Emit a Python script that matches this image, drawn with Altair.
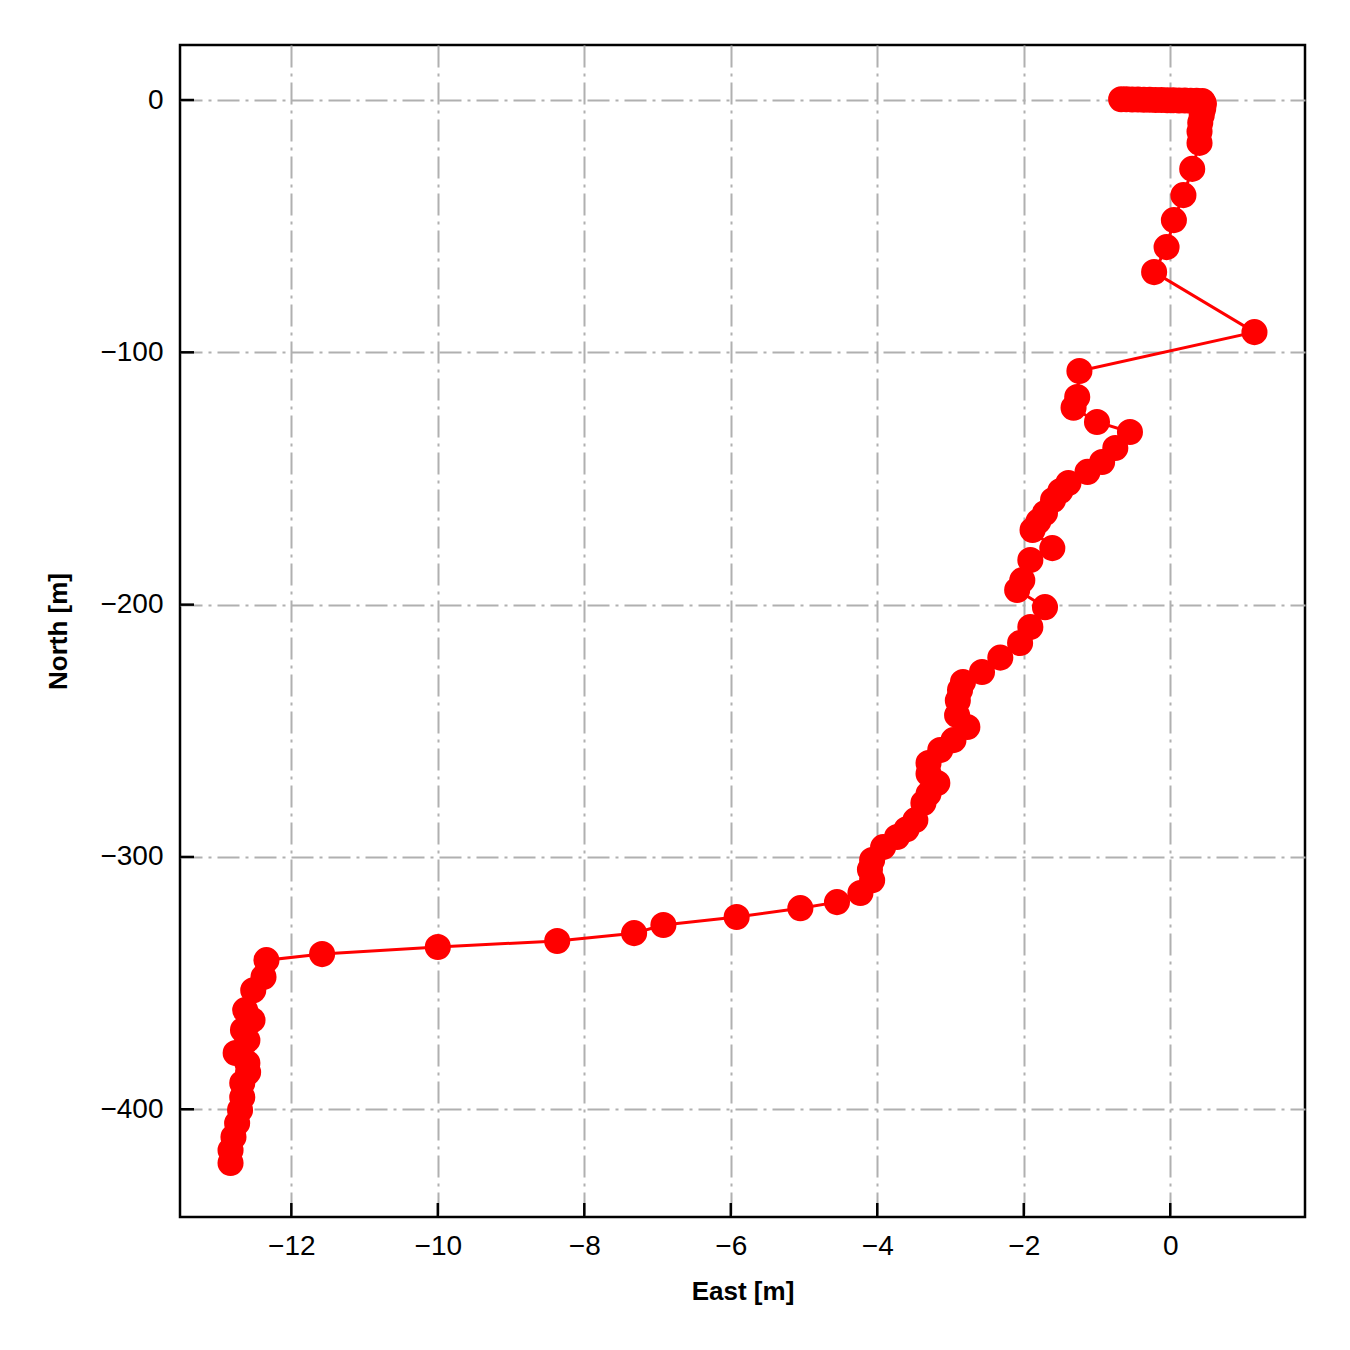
import altair as alt
import pandas as pd

east = [-0.67, -0.60, -0.52, -0.44, -0.36, -0.28, -0.20, -0.12, -0.04, 0.04, 0.12, 0.20, 0.28, 0.36, 0.44,
        0.46, 0.45, 0.43, 0.41, 0.40, 0.40, 0.30, 0.18, 0.05, -0.05, -0.22, 1.15,
        -1.24, -1.27, -1.32, -1.00, -0.55, -0.75, -0.93, -1.13, -1.39, -1.50, -1.60, -1.71, -1.80, -1.88,
        -1.61, -1.91, -2.02, -2.09, -1.71, -1.91, -2.05, -2.32, -2.57, -2.83, -2.87, -2.90, -2.91,
        -2.77, -2.96, -3.14, -3.30, -3.30, -3.18, -3.30, -3.37, -3.48, -3.60, -3.73, -3.92, -4.07,
        -4.10, -4.07, -4.23, -4.55, -5.05, -5.92, -6.92, -7.32, -8.37, -10.00, -11.58, -12.34,
        -12.38, -12.52, -12.63, -12.53, -12.66, -12.60, -12.76, -12.60, -12.59, -12.67, -12.67,
        -12.70, -12.74, -12.79, -12.83, -12.83]
north = [0.3, 0.3, 0.2, 0.2, 0.1, 0.1, 0.0, 0.0, -0.1, -0.1, -0.2, -0.2, -0.3, -0.3, -0.4,
         -1.5, -3.5, -6.0, -9.0, -12.5, -17.0, -27.3, -37.7, -47.6, -58.3, -68.2, -92.0,
         -107.4, -117.7, -122.0, -127.6, -131.6, -137.9, -143.5, -147.4, -151.8, -155.0, -158.5, -163.7, -167.0, -170.4,
         -177.6, -182.3, -190.3, -194.2, -201.0, -208.9, -215.2, -221.0, -226.7, -230.7, -233.8, -238.0, -243.8,
         -248.5, -253.7, -257.6, -262.8, -267.0, -270.7, -275.0, -278.6, -285.4, -289.0, -292.1, -296.1, -301.2,
         -305.0, -309.2, -314.3, -317.9, -320.3, -323.8, -327.0, -330.2, -333.3, -335.7, -338.5, -340.9,
         -347.6, -352.8, -360.7, -364.6, -368.6, -372.6, -377.7, -381.7, -385.3, -389.6, -395.2,
         -400.3, -405.5, -411.0, -416.2, -421.3]

x_ticks = [-12, -10, -8, -6, -4, -2, 0]
y_ticks = [-400, -300, -200, -100, 0]
x_domain = [-13.52, 1.84]
y_domain = [-442.7, 21.8]

W, H = 1125, 1172
FONT = "Liberation Sans"

df = pd.DataFrame({"East": east, "North": north, "i": list(range(len(east)))})
xt = pd.DataFrame({"East": x_ticks})
yt = pd.DataFrame({"North": y_ticks})

grid_kw = dict(grid=True, gridColor="#b0b0b0", gridWidth=2, gridDash=[22, 6, 3, 6],
               domain=False, ticks=False, tickSize=0, labelFont=FONT, labelFontSize=28,
               labelColor="black", titleFont=FONT, titleFontSize=26, titleFontWeight="bold",
               titleColor="black")

xscale = alt.Scale(domain=x_domain, nice=False, zero=False)
yscale = alt.Scale(domain=y_domain, nice=False, zero=False)

xaxis = alt.Axis(values=x_ticks, labelPadding=15, titlePadding=18, format="d", **grid_kw)
yaxis = alt.Axis(values=y_ticks, labelPadding=17, titlePadding=28, format="d", **grid_kw)

X = alt.X("East:Q", scale=xscale, axis=xaxis, title="East [m]")
Y = alt.Y("North:Q", scale=yscale, axis=yaxis, title="North [m]")

base = alt.Chart(df)
line = base.mark_line(color="#ff0000", strokeWidth=3).encode(x=X, y=Y, order="i:Q")
pts = base.mark_circle(color="#ff0000", opacity=1, size=680).encode(x=X, y=Y)

xtick_marks = alt.Chart(xt).mark_rule(color="black", strokeWidth=2.5).encode(
    x=X, y=alt.value(H), y2=alt.value(H - 14),
)
ytick_marks = alt.Chart(yt).mark_rule(color="black", strokeWidth=2.5).encode(
    y=Y, x=alt.value(0), x2=alt.value(14),
)

chart = alt.layer(line, pts, xtick_marks, ytick_marks).properties(
    width=W, height=H,
    autosize=alt.AutoSizeParams(type="none"),
    padding={"left": 172, "top": 37, "right": 30, "bottom": 120},
).configure_view(stroke="black", strokeWidth=2.5).configure_axis(
    labelFont=FONT, titleFont=FONT
)

chart.save("out.html", embed_options={"renderer": "svg", "actions": False})
